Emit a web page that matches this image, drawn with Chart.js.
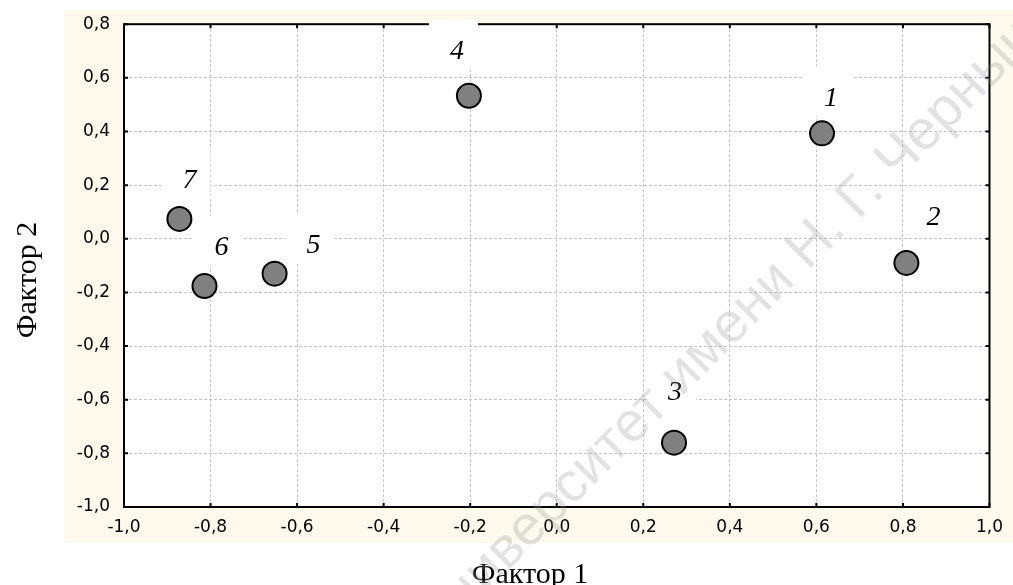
<!DOCTYPE html>
<html>
<head>
<meta charset="utf-8">
<script src="https://cdn.jsdelivr.net/npm/chart.js@4.4.1/dist/chart.umd.min.js"></script>
<style>
  html, body { margin: 0; padding: 0; background: #ffffff; }
  #wrap { width: 1013px; height: 585px; }
</style>
</head>
<body>
<div id="wrap"><canvas id="chart"></canvas></div>
<script>
// номера переменных и их нагрузки на два фактора
const varNames = ['1', '2', '3', '4', '5', '6', '7'];
const factor1 = [0.613, 0.808, 0.271, -0.203, -0.652, -0.814, -0.872];
const factor2 = [0.393, -0.090, -0.760, 0.533, -0.130, -0.176, 0.074];

const xTicks = [-1.0, -0.8, -0.6, -0.4, -0.2, 0.0, 0.2, 0.4, 0.6, 0.8, 1.0];
const yTicks = [-1.0, -0.8, -0.6, -0.4, -0.2, 0.0, 0.2, 0.4, 0.6, 0.8];

// смещение подписей относительно точки (px)
const labelShift = [[9, -35], [27, -45], [1, -50], [-12, -44], [39, -28], [17, -38], [10, -38]];

const fmt = v => v.toFixed(1).replace('.', ',');

const points = factor1.map((x, i) => ({ x: x, y: factor2[i] }));

// фон, рамка, подписи точек, водяной знак
const decor = {
  id: 'decor',
  beforeDraw(chart) {
    const ctx = chart.ctx;
    ctx.save();
    ctx.fillStyle = '#fdf9ec';
    ctx.fillRect(64, 10, chart.width - 64, 533);
    const a = chart.chartArea;
    ctx.fillStyle = '#ffffff';
    ctx.fillRect(a.left, a.top, a.right - a.left, a.bottom - a.top);
    ctx.restore();
  },
  beforeDatasetsDraw(chart) {
    const ctx = chart.ctx;
    const a = chart.chartArea;
    const xs = chart.scales.x, ys = chart.scales.y;
    ctx.save();
    // рамка
    ctx.strokeStyle = '#000';
    ctx.lineWidth = 2;
    ctx.strokeRect(a.left, a.top, a.right - a.left, a.bottom - a.top);
    // внутренние засечки
    xTicks.forEach(v => {
      const px = xs.getPixelForValue(v);
      ctx.beginPath();
      ctx.moveTo(px, a.bottom); ctx.lineTo(px, a.bottom - 4);
      ctx.moveTo(px, a.top); ctx.lineTo(px, a.top + 4);
      ctx.stroke();
    });
    yTicks.forEach(v => {
      const py = ys.getPixelForValue(v);
      ctx.beginPath();
      ctx.moveTo(a.left, py); ctx.lineTo(a.left + 4, py);
      ctx.moveTo(a.right, py); ctx.lineTo(a.right - 4, py);
      ctx.stroke();
    });
    // подписи с белой подложкой
    ctx.font = 'italic 28px "Liberation Serif", serif';
    ctx.textAlign = 'center';
    ctx.textBaseline = 'middle';
    varNames.forEach((name, i) => {
      const cx = xs.getPixelForValue(factor1[i]) + labelShift[i][0];
      const cy = ys.getPixelForValue(factor2[i]) + labelShift[i][1];
      ctx.fillStyle = '#fff';
      ctx.fillRect(cx - 28, cy - 32, 49, 50);
      ctx.fillStyle = '#000';
      ctx.fillText(name, cx, cy);
    });
    ctx.restore();
  },
  afterDraw(chart) {
    const ctx = chart.ctx;
    ctx.save();
    // названия осей
    ctx.fillStyle = '#000';
    ctx.font = '30px "Liberation Serif", serif';
    ctx.textAlign = 'center';
    ctx.textBaseline = 'alphabetic';
    ctx.fillText('Фактор 1', 530, 583);
    ctx.translate(36, 280);
    ctx.rotate(-Math.PI / 2);
    ctx.fillText('Фактор 2', 0, 0);
    ctx.restore();
    // водяной знак
    ctx.save();
    ctx.translate(429, 628);
    ctx.rotate(-Math.PI / 4);
    ctx.font = '56px "Liberation Sans", Arial, sans-serif';
    ctx.fillStyle = 'rgba(150,150,150,0.28)';
    ctx.textBaseline = 'middle';
    ctx.fillText('Университет имени Н. Г. Чернышевского', 0, 0);
    ctx.restore();
  }
};

new Chart(document.getElementById('chart'), {
  type: 'scatter',
  data: {
    datasets: [{
      data: points,
      pointRadius: 12,
      pointHoverRadius: 12,
      pointBackgroundColor: '#808080',
      pointBorderColor: '#000',
      pointBorderWidth: 2
    }]
  },
  options: {
    responsive: true,
    maintainAspectRatio: false,
    animation: false,
    layout: { padding: { top: 22, right: 16, left: 0, bottom: 0 } },
    plugins: { legend: { display: false }, tooltip: { enabled: false } },
    scales: {
      x: {
        type: 'linear', min: -1, max: 1,
        afterBuildTicks: s => { s.ticks = xTicks.map(v => ({ value: v })); },
        afterFit: s => { s.height = 78; },
        border: { display: false, dash: [3, 2] },
        grid: { color: '#c4c4c4', lineWidth: 1, drawTicks: false },
        ticks: {
          padding: 10, color: '#000',
          font: { family: 'DejaVu Sans', size: 17 },
          callback: v => fmt(v)
        }
      },
      y: {
        type: 'linear', min: -1, max: 0.8,
        afterBuildTicks: s => { s.ticks = yTicks.map(v => ({ value: v })); },
        afterFit: s => { s.width = 124; },
        border: { display: false, dash: [3, 2] },
        grid: { color: '#c4c4c4', lineWidth: 1, drawTicks: false },
        ticks: {
          padding: 14, color: '#000',
          font: { family: 'DejaVu Sans', size: 17 },
          callback: v => fmt(v)
        }
      }
    }
  },
  plugins: [decor]
});
</script>
</body>
</html>
